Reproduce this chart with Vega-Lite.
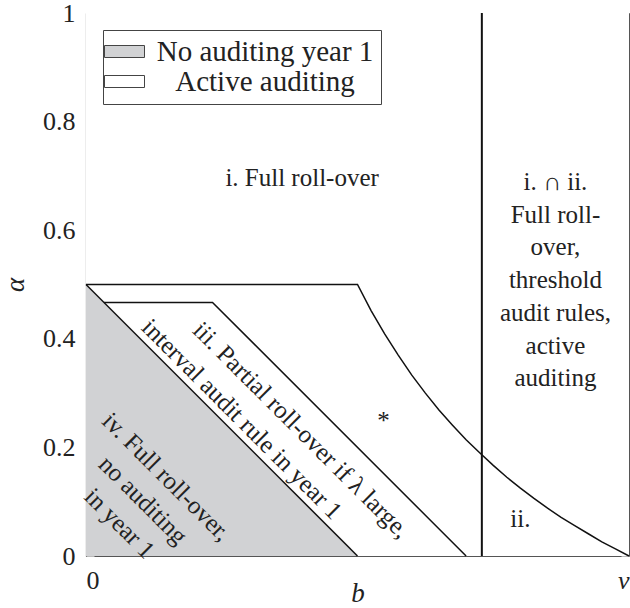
{
  "$schema": "https://vega.github.io/schema/vega-lite/v6.json",
  "width": 543,
  "height": 543,
  "autosize": {"type": "none"},
  "padding": {"left": 86, "top": 13, "right": 1, "bottom": 52},
  "background": "white",
  "config": {
    "font": "Liberation Serif",
    "view": {"stroke": null},
    "axis": {
      "zindex": 1,
      "grid": false,
      "domainColor": "#555",
      "domainWidth": 1.2,
      "tickColor": "#bbb",
      "tickSize": -8,
      "tickWidth": 1,
      "labelFont": "Liberation Serif",
      "labelFontSize": 26,
      "labelColor": "#222",
      "titleFont": "Liberation Serif",
      "titleFontSize": 27,
      "titleColor": "#222",
      "titleFontWeight": "normal",
      "titleFontStyle": "italic"
    },
    "legend": {
      "orient": "top-left",
      "offset": 17,
      "padding": 7,
      "fillColor": "white",
      "strokeColor": "#444",
      "strokeWidth": 1,
      "symbolType": "M-2,-0.6H2V0.6H-2Z",
      "symbolSize": 400,
      "symbolStrokeColor": "#444",
      "symbolStrokeWidth": 1,
      "symbolOpacity": 1,
      "labelFont": "Liberation Serif",
      "labelFontSize": 29,
      "labelColor": "#222",
      "labelAlign": "center",
      "labelOffset": 126,
      "labelLimit": 400,
      "rowPadding": 0
    }
  },
  "datasets": {
    "regions": [
      {"region": "No auditing year 1", "b": 0, "lo": 0, "hi": 0.5},
      {"region": "No auditing year 1", "b": 0.5, "lo": 0, "hi": 0},
      {"region": "Active auditing", "b": 0, "lo": 0.5, "hi": 1},
      {"region": "Active auditing", "b": 0.5, "lo": 0, "hi": 1},
      {"region": "Active auditing", "b": 1, "lo": 0, "hi": 1}
    ],
    "edges": [
      {"seg": "hyp", "i": 0, "b": 0, "a": 0.5},
      {"seg": "hyp", "i": 1, "b": 0.5, "a": 0},
      {"seg": "inner", "i": 0, "b": 0.033, "a": 0.467},
      {"seg": "inner", "i": 1, "b": 0.233, "a": 0.467},
      {"seg": "inner", "i": 2, "b": 0.7, "a": 0},
      {"seg": "upper", "i": 0, "b": 0, "a": 0.5},
      {"seg": "upper", "i": 1, "b": 0.5, "a": 0.5},
      {"seg": "upper", "i": 2, "b": 0.525, "a": 0.452},
      {"seg": "upper", "i": 3, "b": 0.55, "a": 0.409},
      {"seg": "upper", "i": 4, "b": 0.575, "a": 0.37},
      {"seg": "upper", "i": 5, "b": 0.6, "a": 0.333},
      {"seg": "upper", "i": 6, "b": 0.625, "a": 0.3},
      {"seg": "upper", "i": 7, "b": 0.65, "a": 0.269},
      {"seg": "upper", "i": 8, "b": 0.675, "a": 0.241},
      {"seg": "upper", "i": 9, "b": 0.7, "a": 0.214},
      {"seg": "upper", "i": 10, "b": 0.725, "a": 0.19},
      {"seg": "upper", "i": 11, "b": 0.75, "a": 0.167},
      {"seg": "upper", "i": 12, "b": 0.775, "a": 0.145},
      {"seg": "upper", "i": 13, "b": 0.8, "a": 0.125},
      {"seg": "upper", "i": 14, "b": 0.825, "a": 0.106},
      {"seg": "upper", "i": 15, "b": 0.85, "a": 0.088},
      {"seg": "upper", "i": 16, "b": 0.875, "a": 0.071},
      {"seg": "upper", "i": 17, "b": 0.9, "a": 0.056},
      {"seg": "upper", "i": 18, "b": 0.925, "a": 0.041},
      {"seg": "upper", "i": 19, "b": 0.95, "a": 0.026},
      {"seg": "upper", "i": 20, "b": 0.975, "a": 0.013},
      {"seg": "upper", "i": 21, "b": 1, "a": 0}
    ],
    "threshold": [{"b": 0.729}],
    "labels": [
      {"b": 0.398, "a": 0.682, "t": "i. Full roll-over"},
      {"b": 0.8645, "a": 0.674, "t": "i. ∩ ii.\nFull roll-\nover,\nthreshold\naudit rules,\nactive\nauditing"},
      {"b": 0.8, "a": 0.053, "t": "ii."},
      {"b": 0.548, "a": 0.233, "t": "*"}
    ],
    "slanted": [
      {"b": 0.3965, "a": 0.232, "t": "iii. Partial roll-over if λ large,"},
      {"b": 0.287, "a": 0.252, "t": "interval audit rule in year 1"},
      {"b": 0.148, "a": 0.146, "t": "iv. Full roll-over,\nno auditing\nin year 1"}
    ]
  },
  "layer": [
    {
      "data": {"name": "regions"},
      "mark": {"type": "area", "opacity": 1, "strokeWidth": 0},
      "encoding": {
        "x": {
          "field": "b",
          "type": "quantitative",
          "scale": {"domain": [0, 1], "nice": false},
          "axis": {
            "orient": "bottom",
            "values": [0, 0.2, 0.4, 0.6, 0.8, 1],
            "labelExpr": "datum.value == 0 ? '0' : datum.value == 1 ? 'v' : ''",
            "labelFontStyle": {"condition": {"test": "datum.value == 1", "value": "italic"}, "value": "normal"},
            "labelPadding": 19,
            "title": "b",
            "titlePadding": -13
          }
        },
        "y": {
          "field": "hi",
          "type": "quantitative",
          "stack": null,
          "scale": {"domain": [0, 1], "nice": false},
          "axis": {
            "orient": "left",
            "values": [0, 0.2, 0.4, 0.6, 0.8, 1],
            "format": ".1~f",
            "labelPadding": 19,
            "title": "α",
            "titlePadding": 13
          }
        },
        "y2": {"field": "lo"},
        "fill": {
          "field": "region",
          "type": "nominal",
          "scale": {"domain": ["No auditing year 1", "Active auditing"], "range": ["#d1d2d4", "#ffffff"]},
          "legend": {"title": null}
        }
      }
    },
    {
      "data": {"name": "edges"},
      "mark": {"type": "line", "color": "#111", "strokeWidth": 1.5},
      "encoding": {
        "x": {
          "field": "b",
          "type": "quantitative",
          "scale": {"domain": [0, 1], "nice": false},
          "axis": {"orient": "top", "values": [0, 0.2, 0.4, 0.6, 0.8, 1], "labels": false, "title": null}
        },
        "y": {
          "field": "a",
          "type": "quantitative",
          "scale": {"domain": [0, 1], "nice": false},
          "axis": {"orient": "right", "values": [0, 0.2, 0.4, 0.6, 0.8, 1], "labels": false, "title": null}
        },
        "detail": {"field": "seg", "type": "nominal"},
        "order": {"field": "i", "type": "quantitative"}
      }
    },
    {
      "data": {"name": "threshold"},
      "mark": {"type": "rule", "color": "#111", "strokeWidth": 2},
      "encoding": {
        "x": {"field": "b", "type": "quantitative", "axis": null}
      }
    },
    {
      "data": {"name": "labels"},
      "mark": {"type": "text", "align": "center", "baseline": "alphabetic", "lineBreak": "\n", "lineHeight": 32.7, "fontSize": 25, "font": "Liberation Serif", "color": "#222"},
      "encoding": {
        "x": {"field": "b", "type": "quantitative", "axis": null},
        "y": {"field": "a", "type": "quantitative", "axis": null},
        "text": {"field": "t", "type": "nominal"}
      }
    },
    {
      "data": {"name": "slanted"},
      "mark": {"type": "text", "align": "center", "baseline": "middle", "angle": 45, "lineBreak": "\n", "lineHeight": 33, "fontSize": 25, "font": "Liberation Serif", "color": "#222"},
      "encoding": {
        "x": {"field": "b", "type": "quantitative", "axis": null},
        "y": {"field": "a", "type": "quantitative", "axis": null},
        "text": {"field": "t", "type": "nominal"}
      }
    }
  ],
  "resolve": {"axis": {"x": "independent", "y": "independent"}}
}
